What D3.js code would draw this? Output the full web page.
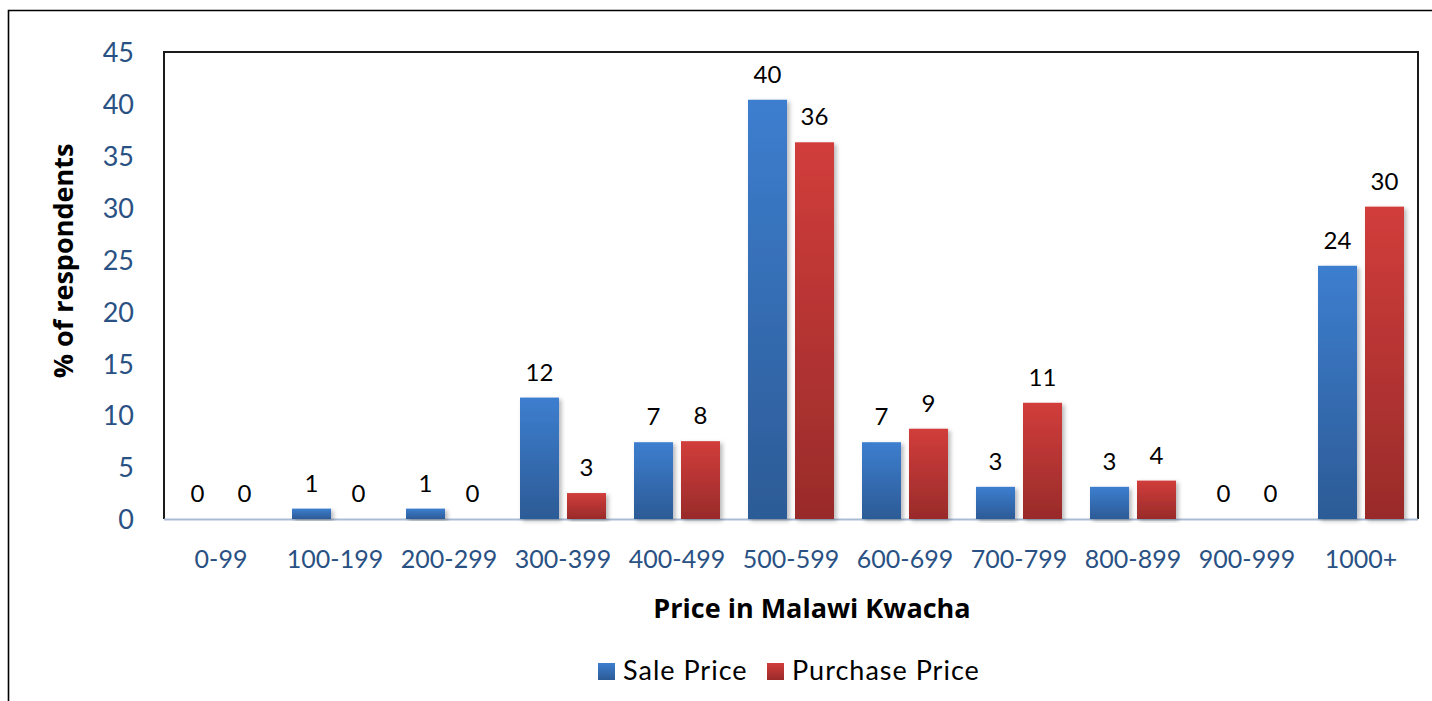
<!DOCTYPE html>
<html>
<head>
<meta charset="utf-8">
<script src="https://cdn.jsdelivr.net/npm/d3@7"></script>
<style>
  html, body { margin: 0; padding: 0; background: #fff; }
  svg { display: block; font-family: Lato, "Open Sans", sans-serif; }
</style>
</head>
<body>
<svg id="chart" width="1432" height="701"></svg>
<script>
// Price bands (Malawi Kwacha)
const categories = ["0-99", "100-199", "200-299", "300-399", "400-499", "500-599",
                    "600-699", "700-799", "800-899", "900-999", "1000+"];
const seriesNames = ["Sale Price", "Purchase Price"];
// % of respondents in each band
const salePrice     = [0, 1.0, 1.0, 11.7, 7.4, 40.4, 7.4, 3.1, 3.1, 0, 24.4];
const purchasePrice = [0, 0, 0, 2.5, 7.5, 36.3, 8.7, 11.2, 3.7, 0, 30.1];
const yTicks = [0, 5, 10, 15, 20, 25, 30, 35, 40, 45];

const svg = d3.select("#chart");
const plot = { left: 164, right: 1418, top: 52, bottom: 519 };

const defs = svg.append("defs");
const grads = [
  { id: "gradSale", top: "#3d7ecf", bottom: "#2c5b96" },
  { id: "gradPurchase", top: "#d13d3b", bottom: "#992b2a" }
];
grads.forEach(g => {
  const lg = defs.append("linearGradient").attr("id", g.id)
    .attr("x1", 0).attr("y1", 0).attr("x2", 0).attr("y2", 1);
  lg.append("stop").attr("offset", "0%").attr("stop-color", g.top);
  lg.append("stop").attr("offset", "100%").attr("stop-color", g.bottom);
});
defs.append("filter").attr("id", "barShadow")
  .attr("x", "-20%").attr("y", "-5%").attr("width", "150%").attr("height", "115%")
  .append("feDropShadow")
  .attr("dx", 2.5).attr("dy", 2).attr("stdDeviation", 2)
  .attr("flood-color", "#000").attr("flood-opacity", 0.28);

// Outer frame (runs off the bottom and right of the page)
svg.append("path")
  .attr("d", "M1440,10.5 H8.5 V720")
  .attr("fill", "none").attr("stroke", "#000").attr("stroke-width", 1.6);

const x0 = d3.scaleBand().domain(categories).range([plot.left, plot.right]);
const x1 = d3.scaleBand().domain(seriesNames).range([0, x0.bandwidth()])
  .paddingInner(0.17).paddingOuter(0.298);
const y = d3.scaleLinear().domain([0, 45]).range([plot.bottom, plot.top]);

// Plot area frame
svg.append("path")
  .attr("d", `M${plot.left},${plot.bottom} V${plot.top} H${plot.right} V${plot.bottom}`)
  .attr("fill", "none").attr("stroke", "#1a1a1a").attr("stroke-width", 2);

// Category axis line
svg.append("line")
  .attr("x1", plot.left).attr("x2", plot.right)
  .attr("y1", plot.bottom + 0.5).attr("y2", plot.bottom + 0.5)
  .attr("stroke", "#a9bcd4").attr("stroke-width", 2);

// Y axis tick labels
const yAxis = d3.axisLeft(y).tickValues(yTicks).tickSize(0).tickPadding(0);
const yg = svg.append("g").attr("transform", `translate(134,0)`).call(yAxis);
yg.select(".domain").remove();
yg.selectAll("text")
  .attr("font-family", "Lato, sans-serif")
  .attr("font-size", 27).attr("fill", "#2a5183").attr("dy", "0.36em");

// X axis category labels
const xAxis = d3.axisBottom(x0).tickSize(0).tickPadding(0);
const xg = svg.append("g").attr("transform", `translate(0,550)`).call(xAxis);
xg.select(".domain").remove();
xg.selectAll("text")
  .attr("font-family", "Lato, sans-serif")
  .attr("font-size", 25).attr("fill", "#2a5183").attr("dy", "0.72em");

const rows = categories.map((c, i) => ({
  cat: c,
  values: [
    { key: seriesNames[0], value: salePrice[i], fill: "url(#gradSale)" },
    { key: seriesNames[1], value: purchasePrice[i], fill: "url(#gradPurchase)" }
  ]
}));

const groups = svg.append("g").selectAll("g").data(rows).join("g")
  .attr("transform", d => `translate(${x0(d.cat)},0)`);

groups.selectAll("rect").data(d => d.values.filter(v => v.value > 0)).join("rect")
  .attr("x", d => x1(d.key))
  .attr("width", x1.bandwidth())
  .attr("y", d => y(d.value))
  .attr("height", d => y(0) - y(d.value))
  .attr("fill", d => d.fill)
  .attr("filter", "url(#barShadow)");

const fmt = d3.format(".0f");
groups.selectAll("text.val").data(d => d.values).join("text")
  .attr("class", "val")
  .attr("x", d => x1(d.key) + x1.bandwidth() / 2)
  .attr("y", d => y(d.value) - 17)
  .attr("text-anchor", "middle")
  .attr("font-size", 24).attr("fill", "#000")
  .text(d => fmt(d.value));

// Axis titles
svg.append("text")
  .attr("x", 812).attr("y", 618)
  .attr("text-anchor", "middle")
  .attr("font-family", "'Open Sans', Lato, sans-serif")
  .attr("font-size", 27).attr("font-weight", "bold").attr("fill", "#000")
  .text("Price in Malawi Kwacha");

svg.append("text")
  .attr("transform", "translate(73,261) rotate(-90)")
  .attr("text-anchor", "middle")
  .attr("font-family", "'Open Sans', Lato, sans-serif")
  .attr("font-size", 27).attr("font-weight", "bold").attr("fill", "#000")
  .text("% of respondents");

// Legend
const legendItems = [
  { name: seriesNames[0], fill: "url(#gradSale)", x: 598 },
  { name: seriesNames[1], fill: "url(#gradPurchase)", x: 767 }
];
const lg = svg.append("g").selectAll("g").data(legendItems).join("g")
  .attr("transform", d => `translate(${d.x},663)`);
lg.append("rect").attr("width", 17).attr("height", 17).attr("fill", d => d.fill);
lg.append("text").attr("x", 25).attr("y", 17)
  .attr("font-size", 27).attr("letter-spacing", 1).attr("fill", "#000")
  .text(d => d.name);
</script>
</body>
</html>
